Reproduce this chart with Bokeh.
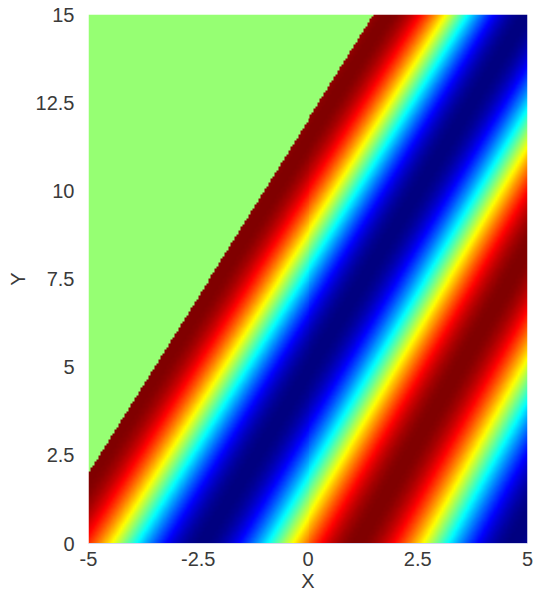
import numpy as np
from bokeh.plotting import figure
from bokeh.models import LinearColorMapper, FixedTicker, Range1d
from bokeh.embed import file_html
from bokeh.resources import INLINE

# ---- data ----
x_limits = [-5.0, 5.0]
y_limits = [0.0, 15.0]
x_ticks = [-5, -2.5, 0, 2.5, 5]
x_tick_labels = ["-5", "-2.5", "0", "2.5", "5"]
y_ticks = [0, 2.5, 5, 7.5, 10, 12.5, 15]
y_tick_labels = ["0", "2.5", "5", "7.5", "10", "12.5", "15"]
# wave front: field undefined left of x = a + b*y
front_line = [-6.0, 0.5]
# trough (minimum) line: x = a + b*y
trough_line = [-2.41, 0.492]
# local wavenumber k(y) = a + b*y
wavenumber = [0.885, 0.0075]
grid_size = [220, 264]  # nx, ny

# ---- field ----
nx, ny = grid_size
xs = x_limits[0] + (np.arange(nx) + 0.5) * (x_limits[1] - x_limits[0]) / nx
ys = y_limits[0] + (np.arange(ny) + 0.5) * (y_limits[1] - y_limits[0]) / ny
X, Y = np.meshgrid(xs, ys)
k = wavenumber[0] + wavenumber[1] * Y
theta = k * (X - (trough_line[0] + trough_line[1] * Y))
Z = -np.cos(theta)
Z[X < front_line[0] + front_line[1] * Y] = np.nan
Z = Z.astype(np.float32)

# jet palette
v = np.linspace(0, 1, 256)
def ch(c):
    return np.clip(1.5 - np.abs(4 * v - c), 0, 1)
r, g, b = ch(3), ch(2), ch(1)
jet = ["#%02x%02x%02x" % (int(round(rr * 255)), int(round(gg * 255)), int(round(bb * 255)))
       for rr, gg, bb in zip(r, g, b)]
mapper = LinearColorMapper(palette=jet, low=-1, high=1, nan_color="#96ff73")

p = figure(width=533, height=601, output_backend="svg", toolbar_location=None,
           x_range=Range1d(*x_limits), y_range=Range1d(*y_limits),
           min_border_left=88, min_border_right=6, min_border_top=14, min_border_bottom=58)
p.image(image=[Z], x=x_limits[0], y=y_limits[0],
        dw=x_limits[1] - x_limits[0], dh=y_limits[1] - y_limits[0], color_mapper=mapper)

p.outline_line_color = None
p.xgrid.visible = False
p.ygrid.visible = False
p.background_fill_color = "white"
p.border_fill_color = "white"

font = "Liberation Sans"
tcol = "#3a3a3a"
p.xaxis.ticker = FixedTicker(ticks=x_ticks)
p.yaxis.ticker = FixedTicker(ticks=y_ticks)
p.xaxis.major_label_overrides = {t: s for t, s in zip(x_ticks, x_tick_labels)}
p.yaxis.major_label_overrides = {t: s for t, s in zip(y_ticks, y_tick_labels)}
p.xaxis.axis_label = "X"
p.yaxis.axis_label = "Y"
for ax in (p.xaxis, p.yaxis):
    ax.major_tick_line_color = None
    ax.minor_tick_line_color = None
    ax.major_label_text_font = font
    ax.major_label_text_font_size = "20px"
    ax.major_label_text_color = tcol
    ax.axis_label_text_font = font
    ax.axis_label_text_font_size = "20px"
    ax.axis_label_text_font_style = "normal"
    ax.axis_label_text_color = tcol
p.xaxis.axis_line_color = "#d4d8f0"
p.yaxis.axis_line_color = None
p.xaxis.major_label_standoff = 2
p.xaxis.axis_label_standoff = 1
p.yaxis.major_label_standoff = 8
p.yaxis.axis_label_standoff = 4

open("out.html", "w").write(file_html(p, INLINE))
